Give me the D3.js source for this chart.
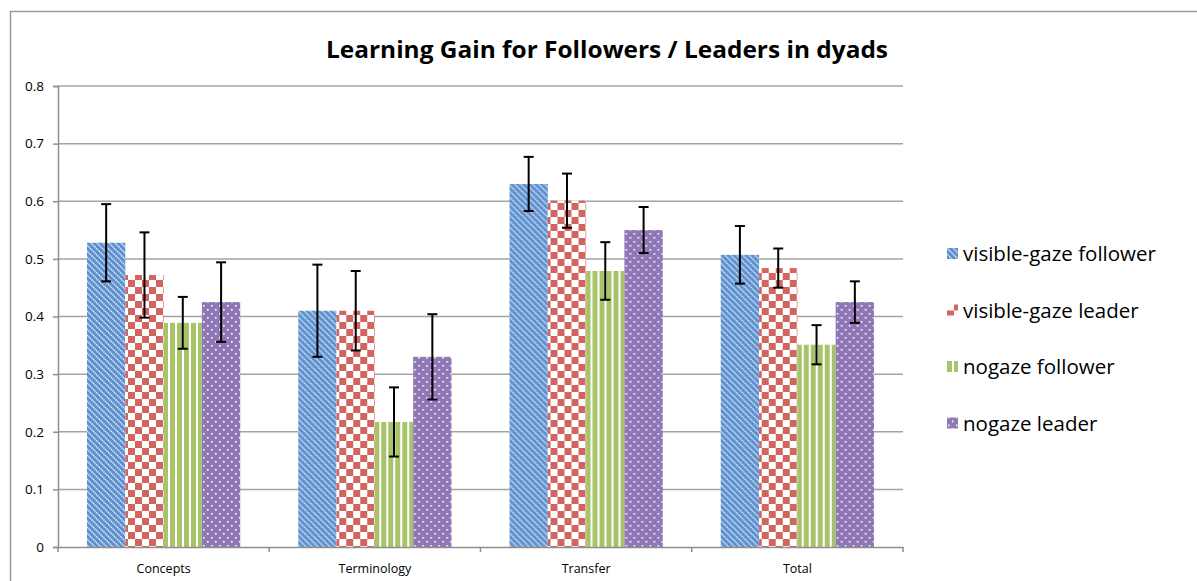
<!DOCTYPE html>
<html>
<head>
<meta charset="utf-8">
<title>Learning Gain</title>
<style>
  body { margin: 0; background: #fff; }
  svg text { font-family: 'Open Sans', 'Liberation Sans', sans-serif; fill: #000; }
</style>
<script src="https://d3js.org/d3.v7.min.js"></script>
</head>
<body>
<svg id="chart" width="1197" height="581"></svg>
<script>
// data
var categories = ["Concepts", "Terminology", "Transfer", "Total"];
var seriesNames = ["visible-gaze follower", "visible-gaze leader", "nogaze follower", "nogaze leader"];
var visFollower = [0.528, 0.41, 0.63, 0.507];
var visLeader   = [0.472, 0.41, 0.601, 0.484];
var noFollower  = [0.389, 0.217, 0.479, 0.351];
var noLeader    = [0.425, 0.33, 0.55, 0.425];
var errVisFollower = [0.067, 0.08, 0.047, 0.05];
var errVisLeader   = [0.074, 0.069, 0.047, 0.034];
var errNoFollower  = [0.045, 0.06, 0.05, 0.034];
var errNoLeader    = [0.069, 0.074, 0.04, 0.036];
var yTicks = [0, 0.1, 0.2, 0.3, 0.4, 0.5, 0.6, 0.7, 0.8];

var values = [visFollower, visLeader, noFollower, noLeader];
var errors = [errVisFollower, errVisLeader, errNoFollower, errNoLeader];
var patternIds = ["pBlue", "pRed", "pGreen", "pPurple"];

var svg = d3.select("#chart");

// patterns
var defs = svg.append("defs");
var pb = defs.append("pattern").attr("id", "pBlue").attr("patternUnits", "userSpaceOnUse")
  .attr("width", 6).attr("height", 6);
pb.append("rect").attr("width", 6).attr("height", 6).attr("fill", "#5b8fcd");
pb.append("path").attr("d", "M-1,-1 L7,7 M-1,5 L1,7 M5,-1 L7,1")
  .attr("stroke", "#e6eef9").attr("stroke-width", 1.5).attr("stroke-dasharray", "1.4,0.7");

var pr = defs.append("pattern").attr("id", "pRed").attr("patternUnits", "userSpaceOnUse")
  .attr("width", 14).attr("height", 14);
pr.append("rect").attr("width", 14).attr("height", 14).attr("fill", "#fff");
pr.append("rect").attr("width", 7).attr("height", 7).attr("fill", "#d0665f");
pr.append("rect").attr("x", 7).attr("y", 7).attr("width", 7).attr("height", 7).attr("fill", "#d0665f");

var pg = defs.append("pattern").attr("id", "pGreen").attr("patternUnits", "userSpaceOnUse")
  .attr("width", 7).attr("height", 7);
pg.append("rect").attr("width", 7).attr("height", 7).attr("fill", "#fff");
pg.append("rect").attr("x", 0).attr("width", 5).attr("height", 7).attr("fill", "#a7c46a");

var pp = defs.append("pattern").attr("id", "pPurple").attr("patternUnits", "userSpaceOnUse")
  .attr("width", 8).attr("height", 8);
pp.append("rect").attr("width", 8).attr("height", 8).attr("fill", "#9077b6");
pp.append("rect").attr("x", 1).attr("y", 1).attr("width", 1.6).attr("height", 1.6).attr("fill", "#fff");
pp.append("rect").attr("x", 5).attr("y", 5).attr("width", 1.6).attr("height", 1.6).attr("fill", "#fff");

// outer frame
svg.append("path").attr("d", "M10.5,581 L10.5,11.5 L1197,11.5")
  .attr("fill", "none").attr("stroke", "#9a9a9a").attr("stroke-width", 1.5);

var plotL = 58, plotR = 903, plotT = 86, plotB = 547;

var x = d3.scaleBand().domain(categories).range([plotL, plotR]).paddingInner(0).paddingOuter(0);
var xi = d3.scaleBand().domain(d3.range(4)).range([29, x.bandwidth() - 29]);
var y = d3.scaleLinear().domain([0, 0.8]).range([plotB, plotT]);

// gridlines
svg.append("g").selectAll("line").data(yTicks.slice(1)).join("line")
  .attr("x1", plotL).attr("x2", plotR)
  .attr("y1", d => y(d)).attr("y2", d => y(d))
  .attr("stroke", "#a3a3a3").attr("stroke-width", 1.5);

// y axis
var ya = svg.append("g").attr("transform", "translate(" + plotL + ",0)")
  .call(d3.axisLeft(y).tickValues(yTicks).tickFormat(d => d === 0 ? "0" : d3.format(".1f")(d)).tickSize(5).tickPadding(9));
ya.select(".domain").attr("stroke", "#8f8f8f").attr("stroke-width", 1.5);
ya.selectAll(".tick line").attr("stroke", "#8f8f8f").attr("stroke-width", 1.5);
ya.selectAll("text").attr("font-size", 13.5).attr("fill", "#000");

// bars
var groups = svg.append("g").selectAll("g").data(categories).join("g")
  .attr("transform", d => "translate(" + x(d) + ",0)");

groups.each(function(cat, ci) {
  var g = d3.select(this);
  var recs = values.map((s, si) => ({ si: si, v: s[ci], e: errors[si][ci] }));
  g.selectAll("rect").data(recs).join("rect")
    .attr("x", d => xi(d.si)).attr("width", xi.bandwidth())
    .attr("y", d => y(d.v)).attr("height", d => y(0) - y(d.v))
    .attr("fill", d => "url(#" + patternIds[d.si] + ")");
  var eb = g.selectAll("g.err").data(recs).join("g").attr("class", "err")
    .attr("stroke", "#000").attr("stroke-width", 2);
  eb.append("line")
    .attr("x1", d => xi(d.si) + xi.bandwidth() / 2).attr("x2", d => xi(d.si) + xi.bandwidth() / 2)
    .attr("y1", d => y(d.v + d.e)).attr("y2", d => y(d.v - d.e));
  eb.append("line")
    .attr("x1", d => xi(d.si) + xi.bandwidth() / 2 - 5).attr("x2", d => xi(d.si) + xi.bandwidth() / 2 + 5)
    .attr("y1", d => y(d.v + d.e)).attr("y2", d => y(d.v + d.e));
  eb.append("line")
    .attr("x1", d => xi(d.si) + xi.bandwidth() / 2 - 5).attr("x2", d => xi(d.si) + xi.bandwidth() / 2 + 5)
    .attr("y1", d => y(d.v - d.e)).attr("y2", d => y(d.v - d.e));
});

// x axis
var xa = svg.append("g").attr("transform", "translate(0," + plotB + ")")
  .call(d3.axisBottom(x).tickSize(0).tickPadding(17));
xa.select(".domain").attr("stroke", "#8f8f8f").attr("stroke-width", 1.5);
xa.selectAll("text").attr("font-size", 12.5).attr("fill", "#000");
svg.append("g").selectAll("line").data(d3.range(categories.length + 1)).join("line")
  .attr("x1", i => plotL + i * x.step()).attr("x2", i => plotL + i * x.step())
  .attr("y1", plotB).attr("y2", plotB + 5)
  .attr("stroke", "#8f8f8f").attr("stroke-width", 1.5);

// title
svg.append("text").attr("x", 607).attr("y", 58).attr("text-anchor", "middle")
  .attr("font-size", 23).attr("font-weight", "bold")
  .attr("textLength", 562).attr("lengthAdjust", "spacingAndGlyphs")
  .text("Learning Gain for Followers / Leaders in dyads");

// legend
var lg = svg.append("g").selectAll("g").data(seriesNames).join("g")
  .attr("transform", (d, i) => "translate(947," + (254 + i * 56.5) + ")");
lg.append("rect").attr("x", 0).attr("y", -6).attr("width", 11).attr("height", 11)
  .attr("fill", (d, i) => "url(#" + patternIds[i] + ")");
lg.append("text").attr("x", 16).attr("y", 7).attr("font-size", 20.5).text(d => d);
</script>
</body>
</html>
